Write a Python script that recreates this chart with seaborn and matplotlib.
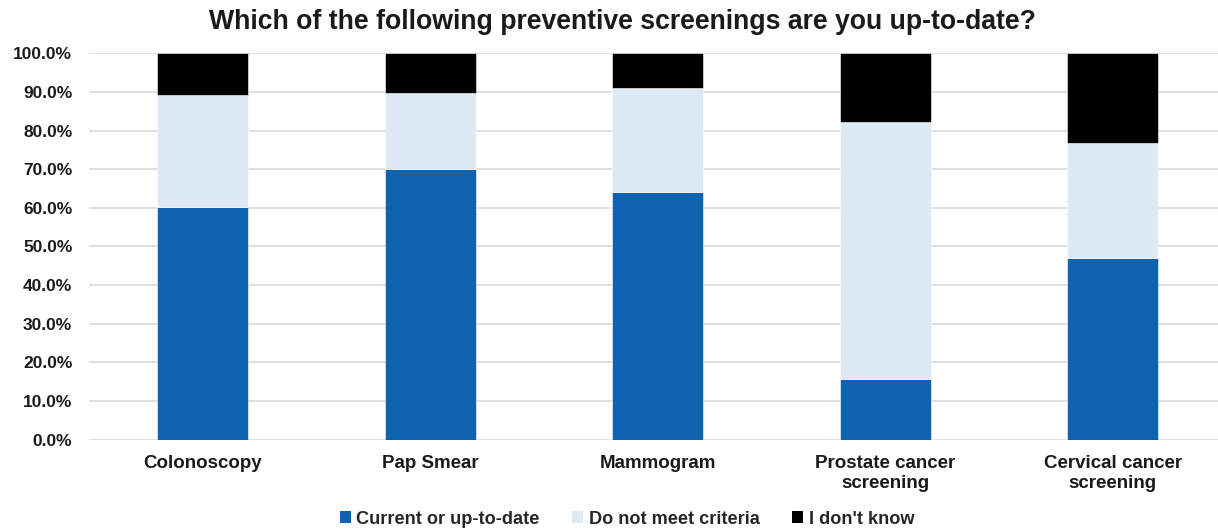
import matplotlib
matplotlib.use("Agg")
import matplotlib.pyplot as plt
from matplotlib.patches import Patch
import seaborn as sns
import pandas as pd

categories = ["Colonoscopy", "Pap Smear", "Mammogram",
              "Prostate cancer\nscreening", "Cervical cancer\nscreening"]
current = [60.2, 70.0, 64.1, 15.7, 47.1]
not_meet = [29.0, 19.8, 26.9, 66.5, 29.6]
dont_know = [10.8, 10.2, 9.0, 17.8, 23.3]
series_names = ["Current or up-to-date", "Do not meet criteria", "I don't know"]
colors = ["#0E62AE", "#DDEAF6", "#000000"]

sns.set_theme(style="white")
plt.rcParams["font.family"] = ["Liberation Sans", "DejaVu Sans"]

fig = plt.figure(figsize=(12.18, 5.31), dpi=100)
ax = fig.add_axes([89 / 1218, 91.5 / 531, 1137.5 / 1218, 386 / 531])

bottom = [0.0] * len(categories)
for vals, col in zip([current, not_meet, dont_know], colors):
    df = pd.DataFrame({"cat": categories, "val": vals})
    sns.barplot(data=df, x="cat", y="val", color=col, width=0.4, bottom=bottom,
                edgecolor="white", linewidth=0.4, saturation=1, ax=ax, zorder=3)
    bottom = [b + v for b, v in zip(bottom, vals)]

ax.set_ylim(0, 100)
ax.set_xlim(-0.5, len(categories) - 0.5)
ax.set_yticks(range(0, 101, 10))
ax.set_yticklabels([f"{t:.1f}%" for t in range(0, 101, 10)],
                   fontsize=12.5, fontweight="bold", color="#1a1a1a")
ax.set_xticks(range(len(categories)))
ax.set_xticklabels(categories, fontsize=13.5, fontweight="bold", color="#1a1a1a",
                   linespacing=1.25)
ax.tick_params(axis="both", length=0)
ax.tick_params(axis="y", pad=12)
ax.tick_params(axis="x", pad=11)
ax.set_xlabel("")
ax.set_ylabel("")
ax.grid(axis="y", color="#D9D9D9", linewidth=1.2, zorder=0)
for s in ax.spines.values():
    s.set_visible(False)

fig.text(622 / 1218, 1 - 22 / 531, "Which of the following preventive screenings are you up-to-date?",
         ha="center", va="center", fontsize=19.2, fontweight="bold", color="#1a1a1a")

handles = [Patch(facecolor=c, edgecolor="none") for c in colors]
fig.legend(handles, series_names, loc="center", bbox_to_anchor=(627 / 1218, 1 - 519 / 531),
           ncol=3, frameon=False, handlelength=0.6, handleheight=0.6, handletextpad=0.3,
           columnspacing=1.8, prop={"weight": "bold", "size": 13.1})

fig.savefig("out.png", dpi=100)
